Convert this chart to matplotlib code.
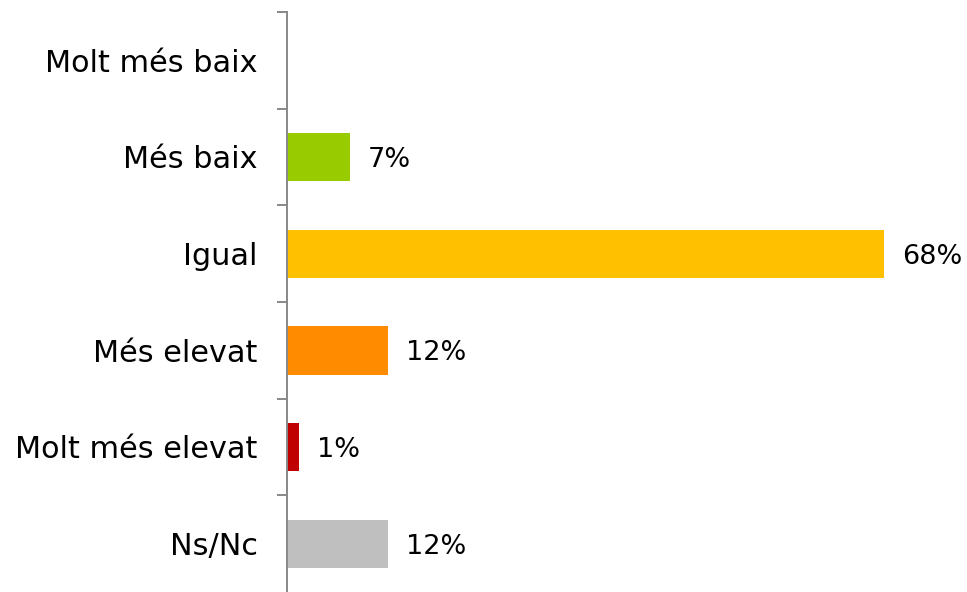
import matplotlib
matplotlib.use("Agg")
import matplotlib.pyplot as plt
from matplotlib.ticker import FixedLocator

categories = ["Molt més baix", "Més baix", "Igual", "Més elevat", "Molt més elevat", "Ns/Nc"]
values = [0.0, 7.2, 68.0, 11.5, 1.4, 11.5]
value_labels = ["", "7%", "68%", "12%", "1%", "12%"]
colors = ["#FFFFFF", "#99CC00", "#FFC000", "#FF8C00", "#C00000", "#BFBFBF"]

plt.rcParams['font.family'] = ['DejaVu Sans']
fig = plt.figure(figsize=(9.67, 5.92), dpi=100)
left = 286.7 / 967
right_px = 940
ax = fig.add_axes([left, 0.0, (right_px - 286.7) / 967, 580 / 592])

ypos = list(range(len(categories)))
ax.barh(ypos, values, height=0.5, color=colors)
ax.set_ylim(len(categories) - 0.5, -0.5)
ax.set_xlim(0, 68.0 * (right_px - 286.7) / (883.7 - 286.7))

for y, v, lab in zip(ypos, values, value_labels):
    if lab:
        ax.annotate(lab, (v, y + 0.03), xytext=(13, 0), textcoords="offset points",
                    va="center", ha="left", fontsize=19.5, color="black")

ax.set_yticks(ypos)
ax.set_yticklabels(categories, fontsize=21.8)
ax.tick_params(axis="y", which="major", length=0, pad=21)
ax.yaxis.set_minor_locator(FixedLocator([i - 0.5 for i in range(len(categories))]))
ax.tick_params(axis="y", which="minor", length=7.5, width=1.4, color="#888888")
ax.set_xticks([])
for s in ["top", "right", "bottom"]:
    ax.spines[s].set_visible(False)
ax.spines["left"].set_color("#888888")
ax.spines["left"].set_linewidth(1.4)

fig.savefig("out.png", dpi=100)
